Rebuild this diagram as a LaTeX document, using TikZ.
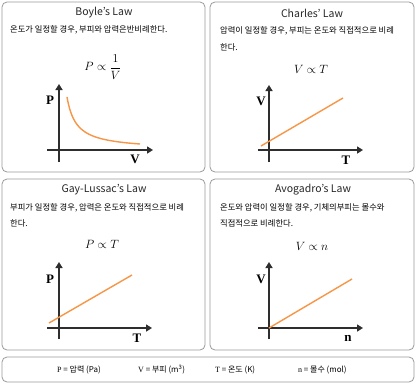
\documentclass[tikz,border=0pt]{standalone}
\usepackage{fontspec}
\setmainfont{Noto Sans CJK KR}
\newfontfamily\lserif{Liberation Serif}
\usetikzlibrary{arrows.meta}
\definecolor{lineor}{HTML}{F79646}
\definecolor{axisc}{HTML}{2E2E2E}
\definecolor{framec}{HTML}{9A9A9A}
\begin{document}
\begin{tikzpicture}[x=1pt,y=-1pt,
  panel/.style={draw=framec, rounded corners=5pt, line width=0.8pt},
  ttl/.style={font=\fontsize{10.5}{12}\selectfont, text=black!85, inner sep=0pt},
  desc/.style={font=\fontsize{8.3}{10}\selectfont, anchor=west, inner sep=0pt},
  formula/.style={font=\fontsize{13}{15}\selectfont, inner sep=0pt},
  axis/.style={line width=1.8pt, draw=axisc, -{Triangle[length=6pt,width=7pt]}},
  albl/.style={font=\lserif\bfseries\fontsize{13}{15}\selectfont, inner sep=0pt},
  curve/.style={draw=lineor, line width=1.4pt},
  leg/.style={font=\fontsize{8}{9}\selectfont, anchor=west, inner sep=0pt}]
\useasboundingbox (0,0) rectangle (416,384);
\fill[white] (0,0) rectangle (416,384);
% panels
\draw[panel] (2,2) rectangle (205,172);
\draw[panel] (210,2) rectangle (414,172);
\draw[panel] (2,179) rectangle (205,350);
\draw[panel] (210,179) rectangle (414,350);
\draw[panel] (2,357) rectangle (414,382);

% ---- Panel 1: Boyle
\node[ttl] (t1) at (104,13) {Boyle’s Law};
\node[desc] (d1) at (10,30) {온도가 일정할 경우, 부피와 압력은반비례한다.};
\node[formula] (f1) at (103,67) {$\displaystyle P \propto \frac{1}{V}$};
\coordinate (o1x0) at (47,150); \coordinate (o1x1) at (153,150);
\coordinate (o1y0) at (59,162); \coordinate (o1y1) at (59,84);
\draw[axis] (o1x0) -- (o1x1);
\draw[axis] (o1y0) -- (o1y1);
\node[albl] (p1) at (50,100) {P};
\node[albl] (v1) at (135,159) {V};
\draw[curve] plot[domain=8:81, samples=60, smooth] ({59+\x},{150-494/(\x+1.32)});

% ---- Panel 2: Charles
\node[ttl] (t2) at (312,13) {Charles’ Law};
\node[desc] (d2a) at (220,31) {압력이 일정할 경우, 부피는 온도와 직접적으로 비례};
\node[desc] (d2b) at (220,47) {한다.};
\node[formula] (f2) at (311,69) {$V \propto T$};
\coordinate (o2x0) at (258,150); \coordinate (o2x1) at (363,150);
\coordinate (o2y0) at (269,162); \coordinate (o2y1) at (269,85);
\draw[axis] (o2x0) -- (o2x1);
\draw[axis] (o2y0) -- (o2y1);
\node[albl] (v2) at (261,101) {V};
\node[albl] (tt2) at (346,160) {T};
\coordinate (l2a) at (261,146); \coordinate (l2b) at (343,98);
\draw[curve] (l2a) -- (l2b);

% ---- Panel 3: Gay-Lussac
\node[ttl] (t3) at (104,190) {Gay-Lussac’s Law};
\node[desc] (d3a) at (10,208) {부피가 일정할 경우, 압력은 온도와 직접적으로 비례};
\node[desc] (d3b) at (10,223) {한다.};
\node[formula] (f3) at (102,244) {$P \propto T$};
\coordinate (o3x0) at (47,328); \coordinate (o3x1) at (152,328);
\coordinate (o3y0) at (59,339); \coordinate (o3y1) at (59,262);
\draw[axis] (o3x0) -- (o3x1);
\draw[axis] (o3y0) -- (o3y1);
\node[albl] (p3) at (50,279) {P};
\node[albl] (tt3) at (137,338) {T};
\coordinate (l3a) at (49,323); \coordinate (l3b) at (132,275);
\draw[curve] (l3a) -- (l3b);

% ---- Panel 4: Avogadro
\node[ttl] (t4) at (313,190) {Avogadro’s Law};
\node[desc] (d4a) at (220,208) {온도와 압력이 일정할 경우, 기체의부피는 몰수와};
\node[desc] (d4b) at (220,223) {직접적으로 비례한다.};
\node[formula] (f4) at (312,246) {$V \propto n$};
\coordinate (o4x0) at (258,328); \coordinate (o4x1) at (363,328);
\coordinate (o4y0) at (269,339); \coordinate (o4y1) at (269,262);
\draw[axis] (o4x0) -- (o4x1);
\draw[axis] (o4y0) -- (o4y1);
\node[albl] (v4) at (261,279) {V};
\node[albl] (n4) at (348,338) {n};
\coordinate (l4a) at (269,328); \coordinate (l4b) at (352,279);
\draw[curve] (l4a) -- (l4b);

% ---- Legend
\node[leg] (g1) at (57,370) {{\lserif P} = 압력 (Pa)};
\node[leg] (g2) at (138,370) {{\lserif V} = 부피 (m\textsuperscript{3})};
\node[leg] (g3) at (215,370) {{\lserif T} = 온도 (K)};
\node[leg] (g4) at (298,370) {{\lserif n} = 몰수 (mol)};
\end{tikzpicture}
\end{document}
